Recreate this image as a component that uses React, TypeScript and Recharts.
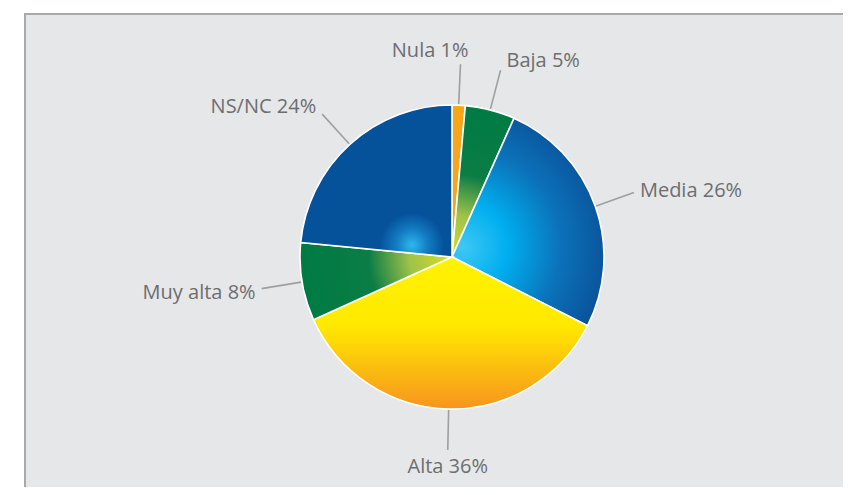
import React from 'react';
import { PieChart, Pie, Cell } from 'recharts';

// survey answers, share of respondents (%)
const categories = ['Nula', 'Baja', 'Media', 'Alta', 'Muy alta', 'NS/NC'];
const shares = [1.4, 5.3, 25.8, 35.8, 8.3, 23.5];
const fills = [
  '#f9a51a',
  'url(#gradGreen)',
  'url(#gradMedia)',
  'url(#gradAlta)',
  'url(#gradGreen)',
  'url(#gradNsnc)',
];

const data = categories.map((name, i) => ({ name, value: shares[i] }));

const W = 851;
const H = 495;
const CX = 452;
const CY = 257;
const R = 152;
const RADIAN = Math.PI / 180;

const textColor = '#6d6e71';
const lineColor = '#9d9fa2';

function renderLabel(props: any) {
  const { cx, cy, midAngle, outerRadius, name, value } = props;
  const ux = Math.cos(-midAngle * RADIAN);
  const uy = Math.sin(-midAngle * RADIAN);
  const sx = cx + (outerRadius + 1) * ux;
  const sy = cy + (outerRadius + 1) * uy;
  const ex = cx + (outerRadius + 41) * ux;
  const ey = cy + (outerRadius + 41) * uy;

  let anchor: 'start' | 'end' | 'middle' = ux > 0 ? 'start' : 'end';
  let tx = ex + (ux > 0 ? 6 : -6);
  let ty = ey + 8 + uy * 12;
  if (Math.abs(ux) < 0.15) {
    if (uy < 0) {
      anchor = 'end';
      tx = ex + 8;
      ty = ey - 7;
    } else {
      anchor = 'middle';
      tx = ex;
      ty = ey + 23;
    }
  }

  return (
    <g>
      <line x1={sx} y1={sy} x2={ex} y2={ey} stroke={lineColor} strokeWidth={1.6} />
      <text
        x={tx}
        y={ty}
        textAnchor={anchor}
        fill={textColor}
        fontSize={20}
        fontFamily="'Open Sans', sans-serif"
      >
        {`${name} ${Math.round(value)}%`}
      </text>
    </g>
  );
}

export default function App() {
  return (
    <div style={{ position: 'relative', width: W, height: H, margin: -8, background: '#fff', overflow: 'hidden' }}>
      <div
        style={{
          position: 'absolute',
          left: 24,
          top: 13,
          width: W,
          height: H,
          background: '#e6e7e8',
          borderTop: '2px solid #a7a9ac',
          borderLeft: '2px solid #a7a9ac',
        }}
      />
      <div style={{ position: 'absolute', left: 0, top: 0 }}>
        <PieChart width={W} height={H} margin={{ top: 0, right: 0, bottom: 0, left: 0 }}>
          <defs>
            <radialGradient id="gradMedia" gradientUnits="userSpaceOnUse" cx={CX + 10} cy={CY - 10} r={R}>
              <stop offset="0" stopColor="#3fc8f4" />
              <stop offset="0.3" stopColor="#00aeef" />
              <stop offset="0.65" stopColor="#0b72b9" />
              <stop offset="1" stopColor="#0a4f98" />
            </radialGradient>
            <radialGradient id="gradGreen" gradientUnits="userSpaceOnUse" cx={CX} cy={CY} r={R}>
              <stop offset="0" stopColor="#d7df23" />
              <stop offset="0.28" stopColor="#9fc24a" />
              <stop offset="0.55" stopColor="#0a7d45" />
              <stop offset="1" stopColor="#007a43" />
            </radialGradient>
            <radialGradient id="gradNsnc" gradientUnits="userSpaceOnUse" cx={CX - 40} cy={CY - 12} r={32}>
              <stop offset="0" stopColor="#2fb8ec" />
              <stop offset="0.5" stopColor="#127cc2" />
              <stop offset="1" stopColor="#05529b" />
            </radialGradient>
            <linearGradient id="gradAlta" gradientUnits="userSpaceOnUse" x1={0} y1={CY} x2={0} y2={CY + R}>
              <stop offset="0" stopColor="#fff200" />
              <stop offset="0.45" stopColor="#ffe900" />
              <stop offset="1" stopColor="#f7941e" />
            </linearGradient>
          </defs>
          <Pie
            data={data}
            dataKey="value"
            nameKey="name"
            cx={CX}
            cy={CY}
            outerRadius={R}
            startAngle={90}
            endAngle={-270}
            stroke="#ffffff"
            strokeWidth={1.6}
            label={renderLabel}
            labelLine={false}
            isAnimationActive={false}
          >
            {data.map((entry, i) => (
              <Cell key={entry.name} fill={fills[i]} />
            ))}
          </Pie>
        </PieChart>
      </div>
    </div>
  );
}
